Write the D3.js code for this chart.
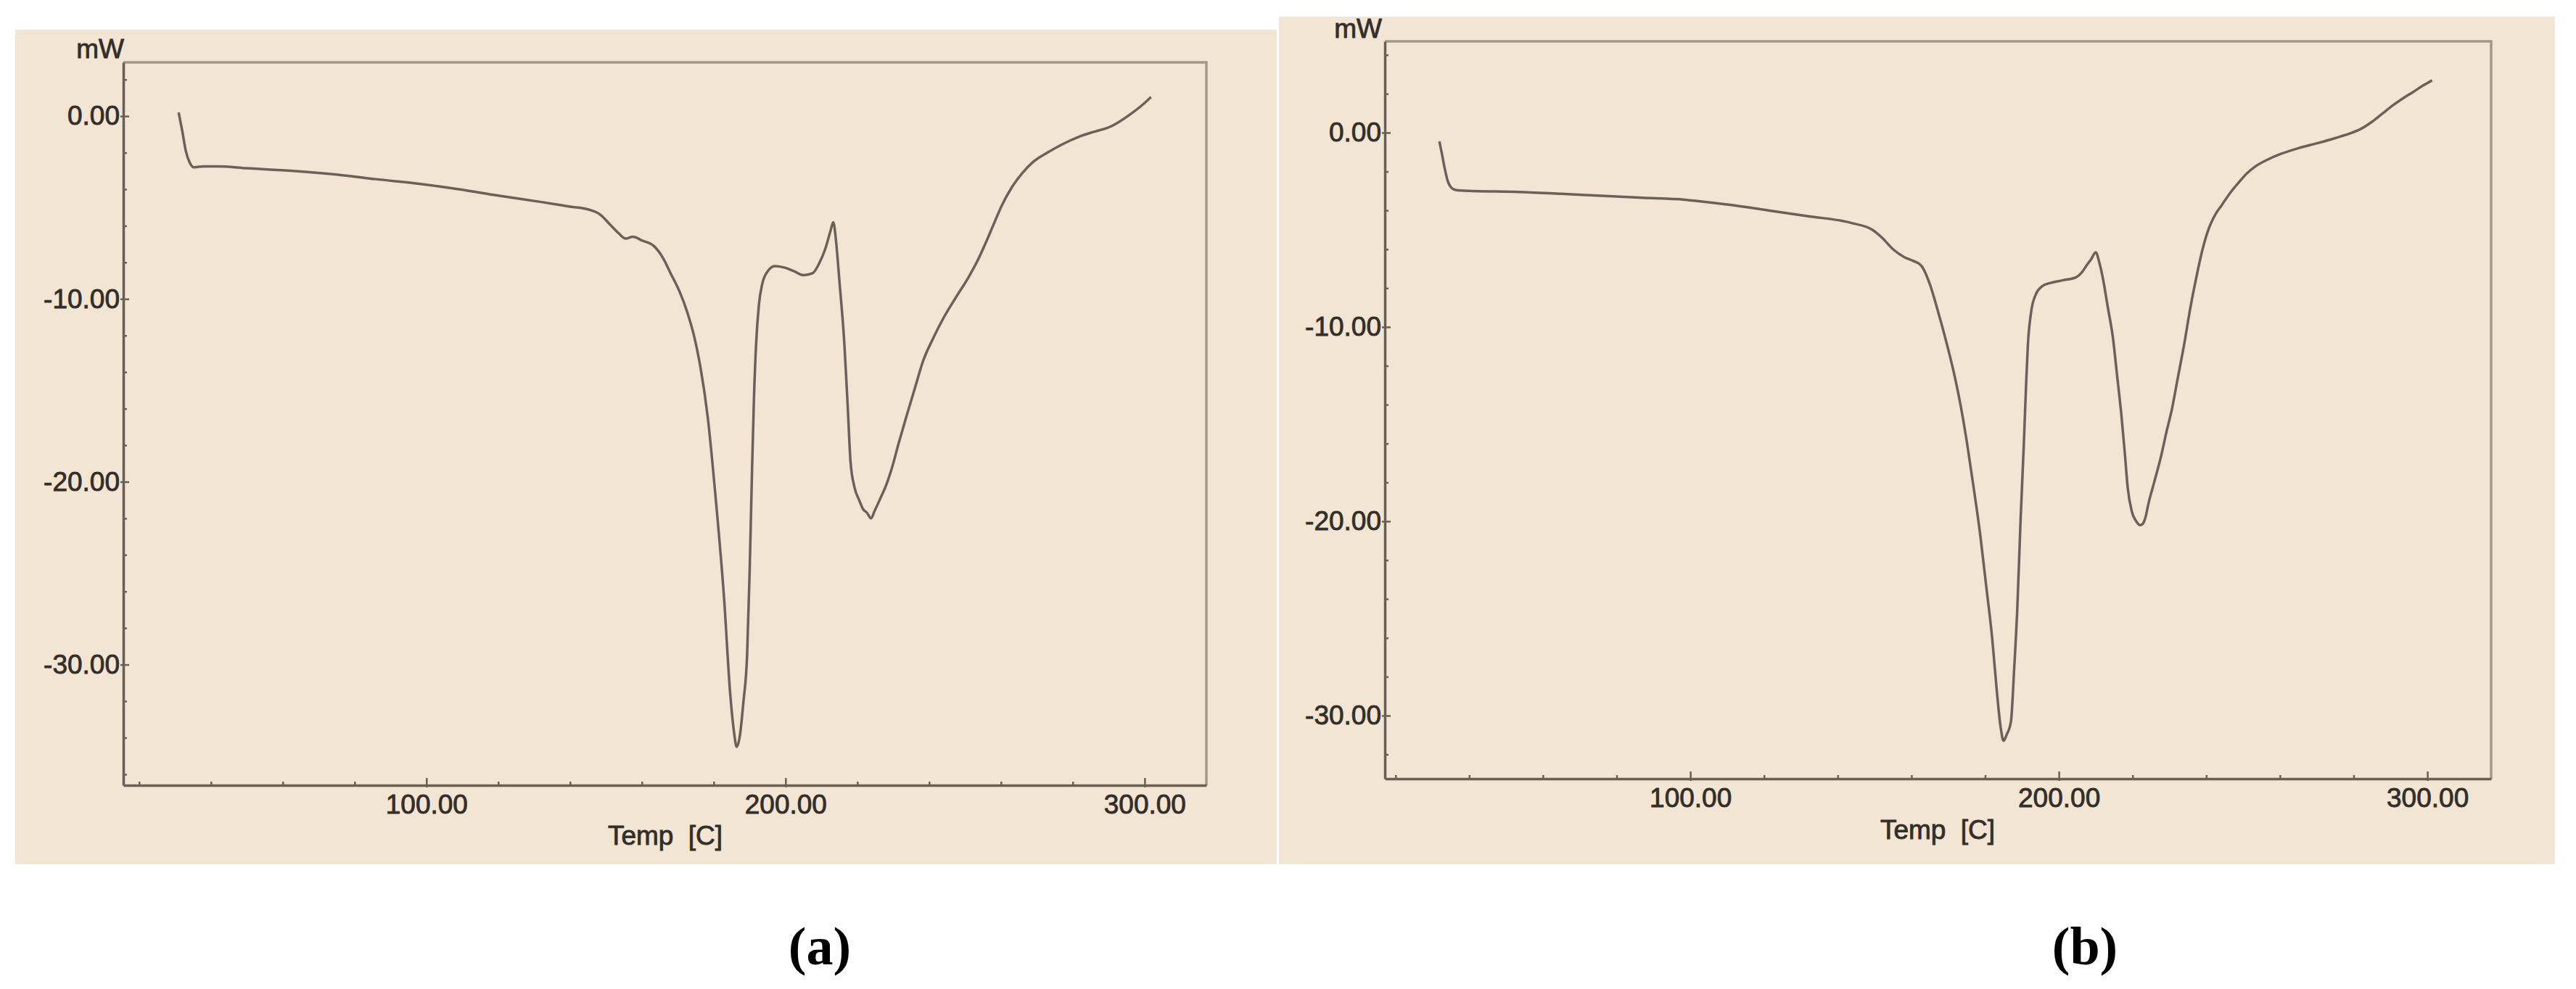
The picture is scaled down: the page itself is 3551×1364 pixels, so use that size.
<!DOCTYPE html>
<html>
<head>
<meta charset="utf-8">
<script src="https://cdn.jsdelivr.net/npm/d3@7"></script>
<style>
  body { margin: 0; background: #fff; }
  svg { display: block; }
  text { font-family: 'Liberation Sans', Arial, sans-serif; fill: #342e29; }
</style>
</head>
<body>
<svg width="3551" height="1364"></svg>
<script>
// DSC curve (a): temperature in C, heat flow in mW
const tempA = [31.0, 32.0, 33.0, 34.0, 35.2, 38, 42, 50, 63, 75, 86, 98, 109, 120, 132, 140, 145,
  148.5, 151, 153.5, 155.5, 157.5, 160, 163.3, 166, 168, 170.5, 172.6, 174.5, 176, 178.3, 180.6,
  182.9, 184.6, 185.6, 186.4, 187.2, 188.3, 189.3, 190.0, 190.6, 191.2, 191.8, 192.6, 193.5, 195,
  197, 200, 202.5, 205, 207.5, 209.5, 211, 212.5, 213.3, 214.1, 215, 216.4, 217.3, 218.1, 219.2,
  220.5, 221.6, 222.7, 223.8, 224.8, 226.2, 228, 229.7, 231.5, 233.7, 236, 238.3, 241, 244.1,
  247.5, 251, 253.5, 255.6, 258, 260.2, 263, 266, 269, 272.9, 277, 282.1, 286, 290.2, 293, 296,
  299, 301.8]
const mwA = [0.2, -0.8, -1.9, -2.5, -2.8, -2.75, -2.75, -2.85, -3.0, -3.2, -3.45, -3.7, -4.0, -4.35,
  -4.7, -4.95, -5.1, -5.4, -5.9, -6.4, -6.7, -6.6, -6.8, -7.1, -7.8, -8.6, -9.6, -10.7, -12.0, -13.4,
  -16.4, -21, -26.4, -31.6, -33.6, -34.5, -34.0, -32.0, -29.5, -25, -20, -15.5, -12.5, -10.3, -9.2,
  -8.5, -8.2, -8.3, -8.5, -8.7, -8.6, -8.0, -7.3, -6.3, -5.8, -6.9, -9, -12.5, -15.8, -18.9, -20.3,
  -21.0, -21.5, -21.7, -22.0, -21.6, -21.0, -20.2, -19.2, -17.9, -16.4, -14.9, -13.4, -12.2, -11,
  -9.9, -8.8, -7.9, -7.0, -5.9, -4.9, -3.9, -3.1, -2.5, -2.0, -1.55, -1.1, -0.85, -0.6, -0.3, 0.1,
  0.55, 1.05]

// DSC curve (b)
const tempB = [31.9, 32.6, 33.3, 34.1, 35.0, 36.3, 40, 53.3, 65, 75.9, 87, 98.5, 110, 121.2, 132,
  143.8, 149.4, 152, 155, 158, 160.5, 162.7, 165, 167.2, 169.5, 171.8, 173.5, 175.1, 176.9, 178.6,
  180.2, 181.9, 183.1, 184.2, 185.0, 185.8, 187, 187.9, 188.7, 189.6, 190.5, 191.1, 191.6, 192.5,
  193.8, 195.5, 197.8, 201, 204.6, 206.2, 207.4, 208.8, 210, 211, 211.9, 213.3, 214.7, 215.8, 217,
  217.9, 218.7, 219.8, 221, 222.0, 222.7, 223.5, 224.3, 226, 227.8, 229.2, 230.6, 232.3, 234,
  235.6, 237.3, 239, 240.8, 242.5, 244.2, 246.5, 248.7, 251, 253.3, 256.5, 260, 265, 270.2, 275,
  279.3, 282, 284.9, 287.8, 290.6, 293.5, 296.2, 298.8, 301.3]
const mwB = [-0.45, -1.1, -1.8, -2.45, -2.8, -2.95, -3.0, -3.05, -3.15, -3.25, -3.35, -3.45, -3.7,
  -4.0, -4.3, -4.65, -5.0, -5.4, -6.0, -6.4, -6.6, -6.85, -7.8, -9.2, -10.8, -12.6, -14.2, -16,
  -18.3, -20.6, -23.2, -26, -28.6, -30.6, -31.3, -31.0, -30.3, -27.5, -24.6, -20, -16, -13, -10.9,
  -9.2, -8.3, -7.9, -7.73, -7.6, -7.45, -7.2, -6.87, -6.5, -6.16, -6.7, -7.45, -9.0, -10.6, -12.5,
  -14.6, -16.5, -18.3, -19.5, -20.0, -20.2, -20.15, -19.8, -19.1, -17.9, -16.6, -15.4, -14.3,
  -12.6, -10.9, -9.1, -7.45, -6.0, -4.88, -4.2, -3.73, -3.1, -2.59, -2.1, -1.74, -1.4, -1.11, -0.8,
  -0.54, -0.28, -0.02, 0.2, 0.55, 0.98, 1.4, 1.78, 2.1, 2.42, 2.69]

const tempLabels = [100, 200, 300]
const mwLabels = [0, -10, -20, -30]
const captions = ['(a)', '(b)']
const xTitle = 'Temp [C]'
const yUnit = 'mW'

// layout of the two screenshots
const panels = [
  {
    temp: tempA, mw: mwA, caption: captions[0],
    bg: [21, 41, 1739, 1151],
    xDom: [15.6, 317.2], xRange: [170, 1663],
    yDom: [2.94, -36.6], yRange: [86, 1083],
    minorY: d3.range(-36, 3, 2),
    title: [917, 1165], unit: [171, 80], cap: [1130, 1330]
  },
  {
    temp: tempB, mw: mwB, caption: captions[1],
    bg: [1763, 23, 1759, 1169],
    xDom: [17.1, 317.3], xRange: [1909, 3434],
    yDom: [4.7, -33.25], yRange: [57, 1074],
    minorY: d3.range(-32, 5, 2),
    title: [2671, 1157], unit: [1905, 52], cap: [2874, 1330]
  }
]

let svg = d3.select('svg')
let axisColor = '#6a5f55'
let inkColor = '#342e29'

panels.forEach(p => {
  let x = d3.scaleLinear().domain(p.xDom).range(p.xRange)
  let y = d3.scaleLinear().domain(p.yDom).range(p.yRange)
  let g = svg.append('g')

  g.append('rect')
    .attr('x', p.bg[0])
    .attr('y', p.bg[1])
    .attr('width', p.bg[2])
    .attr('height', p.bg[3])
    .attr('fill', '#f3e5d3')

  // top and right edges of the frame
  g.append('path')
    .attr('d', `M${p.xRange[0]},${p.yRange[0]}H${p.xRange[1]}V${p.yRange[1]}`)
    .attr('fill', 'none')
    .attr('stroke', '#a3968a')
    .attr('stroke-width', 3.5)

  let xAxis = d3.axisBottom(x)
    .tickValues(d3.range(20, 301, 20))
    .tickSizeInner(-5)
    .tickSizeOuter(0)
    .tickPadding(13)
    .tickFormat(d => tempLabels.includes(d) ? d.toFixed(2) : '')

  let yAxis = d3.axisLeft(y)
    .tickValues(p.minorY)
    .tickSizeInner(-5)
    .tickSizeOuter(0)
    .tickPadding(5)
    .tickFormat(d => mwLabels.includes(d) ? d.toFixed(2) : '')

  let gx = g.append('g')
    .attr('transform', `translate(0, ${p.yRange[1]})`)
    .call(xAxis)
  gx.selectAll('.tick').filter(d => tempLabels.includes(d)).select('line')
    .attr('y1', 3).attr('y2', -10)

  let gy = g.append('g')
    .attr('transform', `translate(${p.xRange[0]}, 0)`)
    .call(yAxis)
  gy.selectAll('.tick').filter(d => mwLabels.includes(d)).select('line')
    .attr('x1', -4).attr('x2', 8)

  ;[gx, gy].forEach(a => {
    a.attr('font-size', null).attr('font-family', null)
    a.select('.domain').attr('stroke', axisColor).attr('stroke-width', 3.5)
    a.selectAll('.tick line').attr('stroke', axisColor).attr('stroke-width', 2.5)
    a.selectAll('.tick text')
      .attr('fill', inkColor)
      .attr('stroke', inkColor)
      .attr('stroke-width', 0.9)
      .style('font-size', '37px')
  })

  g.append('path')
    .datum(d3.zip(p.temp, p.mw))
    .attr('fill', 'none')
    .attr('stroke', '#6c6159')
    .attr('stroke-width', 3.5)
    .attr('stroke-linejoin', 'round')
    .attr('d', d3.line().x(d => x(d[0])).y(d => y(d[1])).curve(d3.curveMonotoneX))

  g.append('text')
    .text(xTitle)
    .attr('x', p.title[0])
    .attr('y', p.title[1])
    .attr('text-anchor', 'middle')
    .attr('word-spacing', 10)
    .attr('stroke', inkColor)
    .attr('stroke-width', 0.9)
    .style('font-size', '37px')

  g.append('text')
    .text(yUnit)
    .attr('x', p.unit[0])
    .attr('y', p.unit[1])
    .attr('text-anchor', 'end')
    .attr('stroke', inkColor)
    .attr('stroke-width', 0.9)
    .style('font-size', '37px')

  g.append('text')
    .text(p.caption)
    .attr('x', p.cap[0])
    .attr('y', p.cap[1])
    .attr('text-anchor', 'middle')
    .style('font-family', "'Liberation Serif', 'Times New Roman', serif")
    .style('font-weight', 'bold')
    .style('font-size', '74px')
    .style('fill', '#000')
})
</script>
</body>
</html>
